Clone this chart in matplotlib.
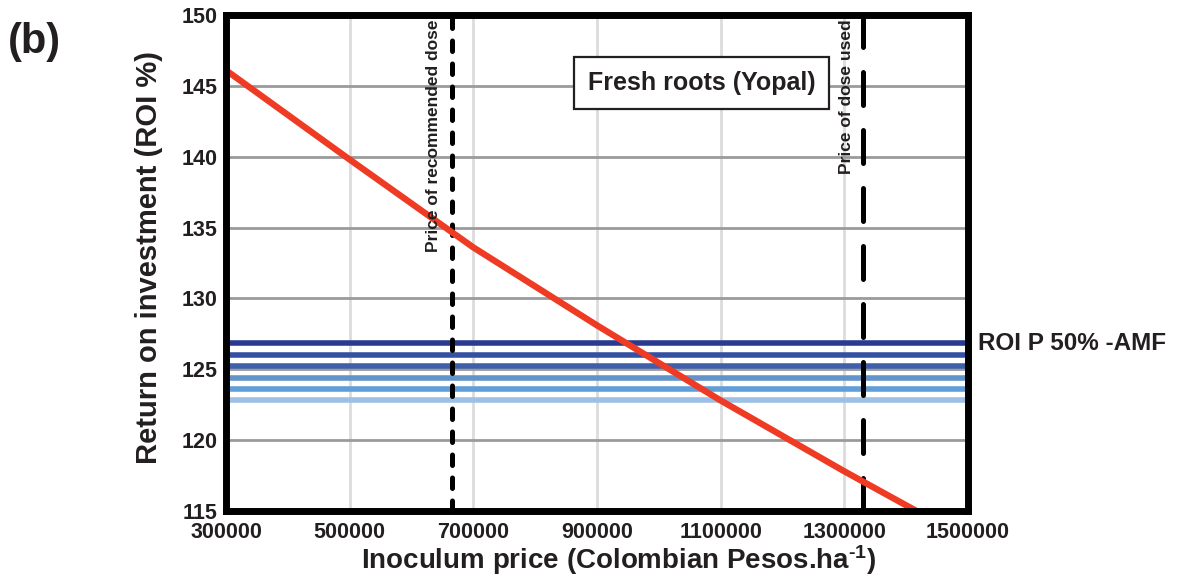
import matplotlib
matplotlib.use("Agg")
import matplotlib.pyplot as plt
from matplotlib.ticker import FixedLocator, FuncFormatter

# ---- data ----
price = [300000, 500000, 700000, 900000, 1100000, 1300000, 1500000]
roi_red = [146.1, 139.8, 133.6, 128.1, 122.8, 117.8, 113.0]
roi_p50 = [126.85, 126.03, 125.26, 124.40, 123.63, 122.83]
blue_colors = ["#2a3a91", "#3450a3", "#3e5faa", "#6294c8", "#5f9ed6", "#9dc0e4"]
dose_recommended = 665000
dose_used = 1330000
xticks = [300000, 500000, 700000, 900000, 1100000, 1300000, 1500000]
yticks = [115, 120, 125, 130, 135, 140, 145, 150]

TXT = "#231f20"
plt.rcParams['font.family'] = ['Liberation Sans', 'DejaVu Sans']
plt.rcParams['mathtext.fontset'] = 'custom'
plt.rcParams['mathtext.rm'] = 'Liberation Sans:bold'
plt.rcParams['mathtext.bf'] = 'Liberation Sans:bold'
plt.rcParams['mathtext.default'] = 'bf'

fig = plt.figure(figsize=(11.8, 5.79), dpi=100)
ax = fig.add_axes([226/1180, 1-511/579, (968-226)/1180, (511-15)/579])

ax.set_xlim(300000, 1500000)
ax.set_ylim(115, 150)

# grid
for gx in xticks[1:-1]:
    ax.axvline(gx, color="#dcdcdc", lw=2.0, zorder=0)
for gy in yticks[1:-1]:
    ax.axhline(gy, color="#9a9a9a", lw=2.0, zorder=0.5)

# blue ROI P 50% lines
for v, c in zip(roi_p50, blue_colors):
    ax.axhline(v, color=c, lw=4.0, zorder=2, solid_capstyle='butt')

# dose lines
l1 = ax.axvline(dose_recommended, color="black", lw=3.6, zorder=3, dash_capstyle='round')
l1.set_dashes((2.1, 2.5))
l2 = ax.axvline(dose_used, color="black", lw=3.6, zorder=3, dash_capstyle='round')
l2.set_dashes((6.6, 5.0))

# red line
ax.plot(price, roi_red, color="#ef3b24", lw=4.6, zorder=4, solid_capstyle='butt')

# spines
for s in ax.spines.values():
    s.set_linewidth(5)
    s.set_color("black")
    s.set_zorder(5)

ax.xaxis.set_major_locator(FixedLocator(xticks))
ax.yaxis.set_major_locator(FixedLocator(yticks))
ax.xaxis.set_major_formatter(FuncFormatter(lambda v, p: f"{int(v)}"))
ax.yaxis.set_major_formatter(FuncFormatter(lambda v, p: f"{int(v)}"))
ax.tick_params(axis='both', length=0, labelsize=15.5, labelcolor=TXT)
ax.tick_params(axis='x', pad=8)
ax.tick_params(axis='y', pad=6)
for lab in ax.get_xticklabels() + ax.get_yticklabels():
    lab.set_fontweight('bold')

# annotations
ax.annotate("Price of recommended dose", xy=(dose_recommended, 1.0),
            xycoords=('data', 'axes fraction'), xytext=(-13, -3),
            textcoords='offset points', rotation=90, ha='center', va='top',
            fontsize=12.5, fontweight='bold', color=TXT, zorder=6)
ax.annotate("Price of dose used", xy=(dose_used, 1.0),
            xycoords=('data', 'axes fraction'), xytext=(-12, -3),
            textcoords='offset points', rotation=90, ha='center', va='top',
            fontsize=12.5, fontweight='bold', color=TXT, zorder=6)

ax.text(0.641, 0.863, "Fresh roots (Yopal)", transform=ax.transAxes,
        ha='center', va='center', fontsize=18, fontweight='bold', color=TXT,
        zorder=6,
        bbox=dict(boxstyle='square,pad=0.55', facecolor='white',
                  edgecolor=TXT, linewidth=1.6))

ax.annotate("ROI P 50% -AMF", xy=(1.0, roi_p50[0]),
            xycoords=('axes fraction', 'data'), xytext=(7, 0),
            textcoords='offset points', ha='left', va='center',
            fontsize=17.5, fontweight='bold', color=TXT, annotation_clip=False)

fig.text(149/1180, 1-258/579, "Return on investment (ROI %)", rotation=90,
         ha='center', va='center', fontsize=21, fontweight='bold', color=TXT)
fig.text(619/1180, 1-560/579, r"Inoculum price (Colombian Pesos.ha$^{\text{-1}}$)",
         ha='center', va='center', fontsize=20, fontweight='bold', color=TXT)
fig.text(8/1180, 1-22/579, "(b)", ha='left', va='top', fontsize=30,
         fontweight='bold', color=TXT)

fig.savefig("out.png", dpi=100)
